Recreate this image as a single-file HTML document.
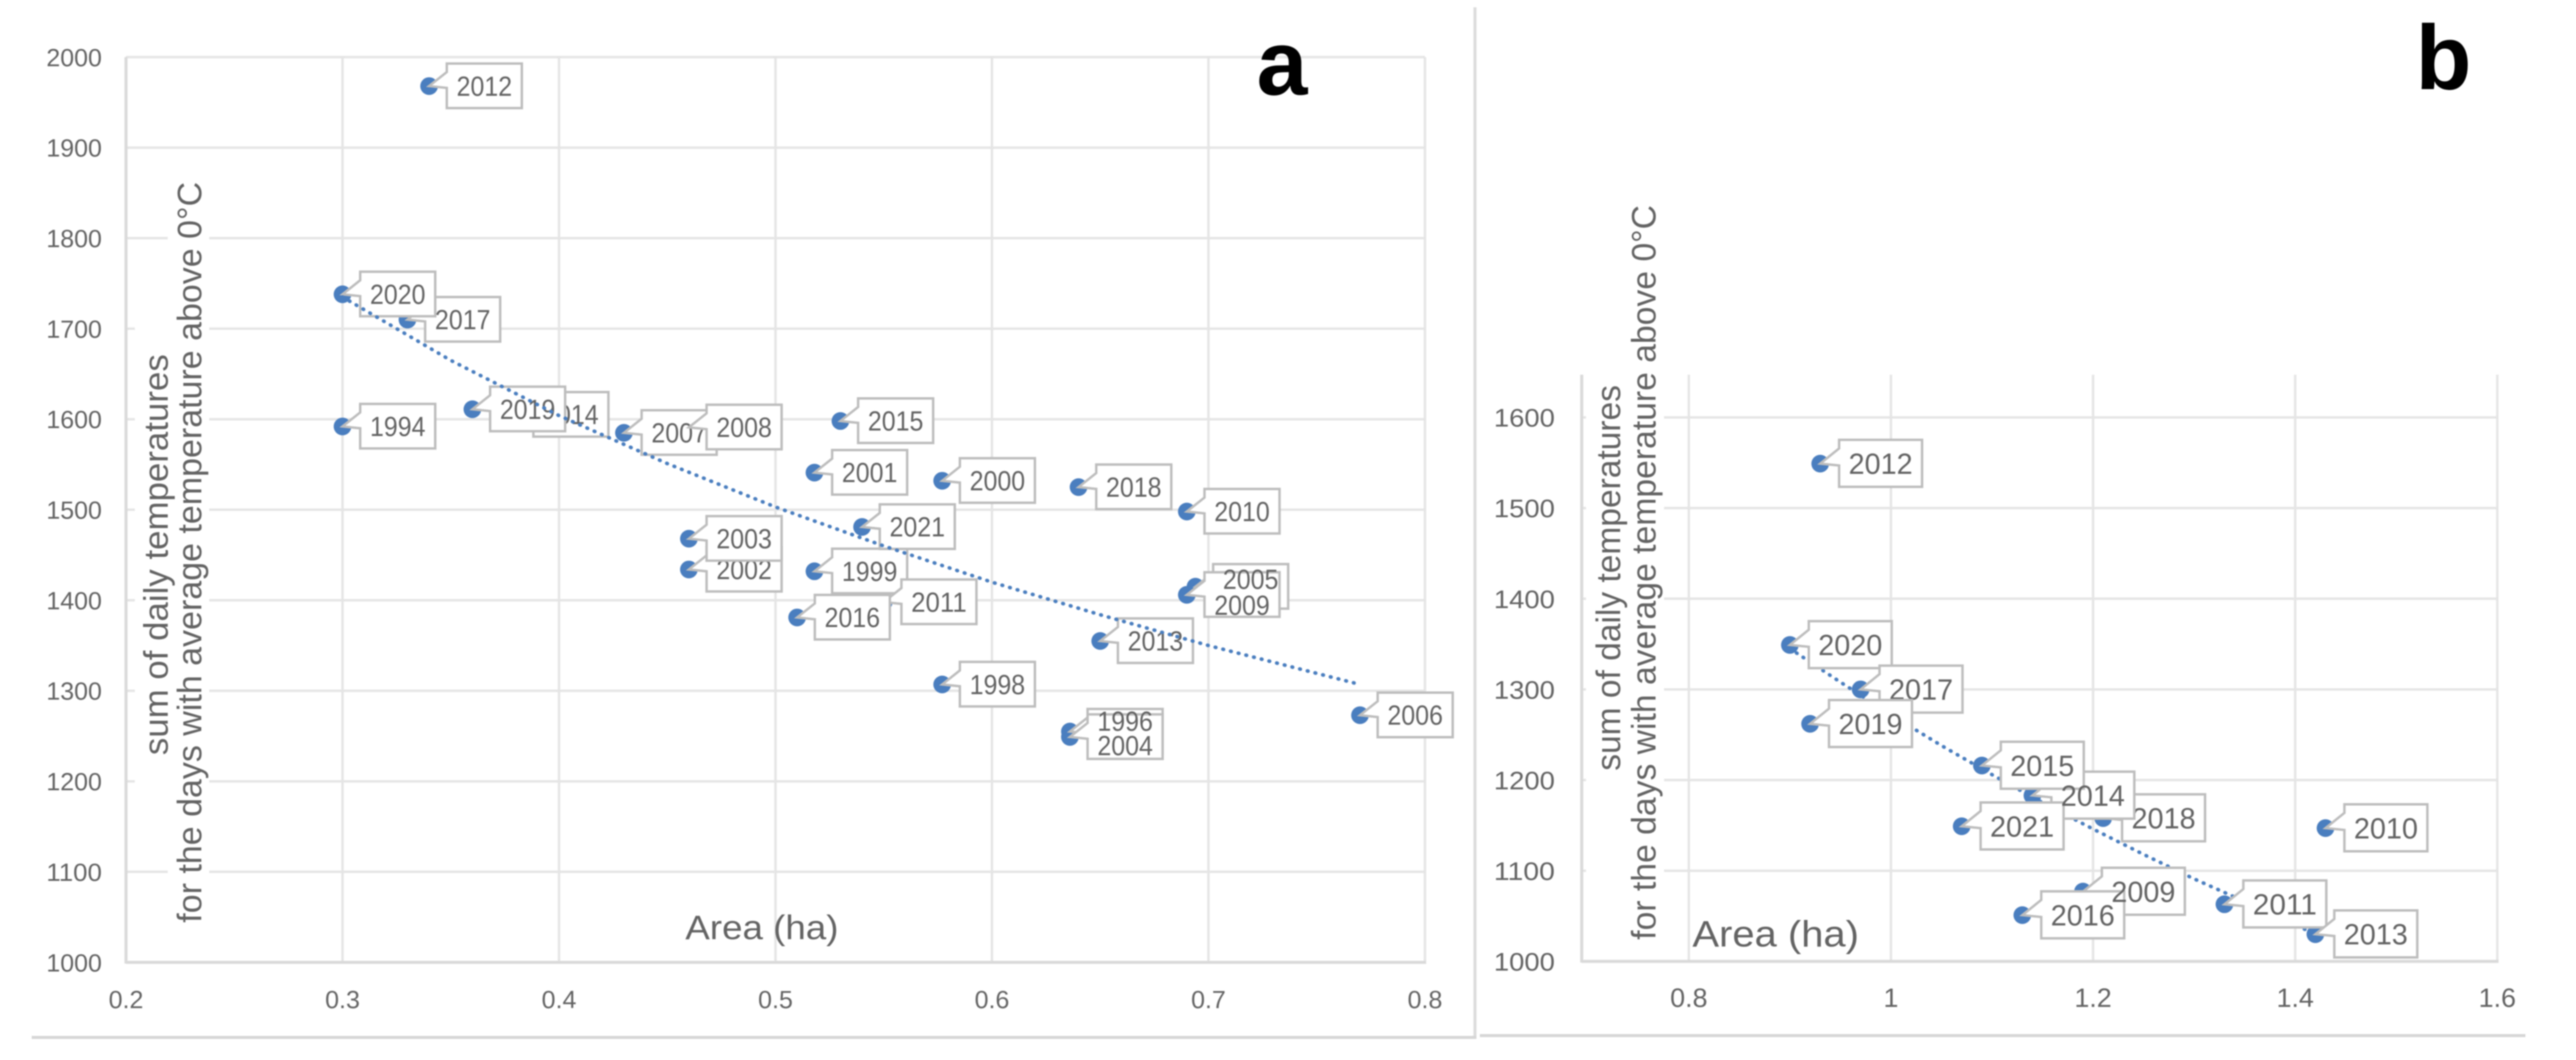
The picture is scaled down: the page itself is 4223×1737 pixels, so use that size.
<!DOCTYPE html>
<html lang="en">
<head>
<meta charset="utf-8">
<title>Area versus sum of daily temperatures</title>
<style>
html,body{margin:0;padding:0;background:#fff;}
svg{display:block;filter:blur(1px);}
text{font-family:"Liberation Sans",sans-serif;fill:#636363;}
.letter{font-weight:bold;fill:#000;}
</style>
</head>
<body>
<svg id="root" width="4223" height="1737" viewBox="0 0 4223 1737" xmlns="http://www.w3.org/2000/svg">
  <rect width="4223" height="1737" fill="#ffffff"/>
  <line x1="2418" y1="12" x2="2418" y2="1702" stroke="#dcdcdc" stroke-width="5"/>
  <line x1="52" y1="1700" x2="2420" y2="1700" stroke="#d6d6d6" stroke-width="5"/>
  <line x1="2426" y1="1697" x2="4140" y2="1697" stroke="#d6d6d6" stroke-width="5"/>

  <g id="a-grid"></g>
  <rect x="221" y="500" width="55" height="800" fill="#fff"/>
  <rect x="275" y="280" width="68" height="1250" fill="#fff"/>
  <text transform="translate(275,909) rotate(-90)" text-anchor="middle" font-size="56" textLength="657" lengthAdjust="spacingAndGlyphs">sum of daily temperatures</text>
  <text transform="translate(330,905) rotate(-90)" text-anchor="middle" font-size="56" textLength="1214" lengthAdjust="spacingAndGlyphs">for the days with average temperature above 0°C</text>
  <text x="1249" y="1539" text-anchor="middle" font-size="56" textLength="251" lengthAdjust="spacingAndGlyphs">Area (ha)</text>
  <g id="a-marks"></g>
  <text class="letter" x="2060" y="155" font-size="150">a</text>

  <g id="b-grid"></g>
  <rect x="2600" y="300" width="128" height="1245" fill="#fff"/>
  <text transform="translate(2656,947) rotate(-90)" text-anchor="middle" font-size="56" textLength="632" lengthAdjust="spacingAndGlyphs">sum of daily temperatures</text>
  <text transform="translate(2714,938) rotate(-90)" text-anchor="middle" font-size="56" textLength="1204" lengthAdjust="spacingAndGlyphs">for the days with average temperature above 0°C</text>
  <text x="2911" y="1551" text-anchor="middle" font-size="60" textLength="273" lengthAdjust="spacingAndGlyphs">Area (ha)</text>
  <g id="b-marks"></g>
  <text class="letter" x="3960" y="146" font-size="150">b</text>
</svg>

<script>
// Panel a data
const yearsA = [1994,1996,1998,1999,2000,2001,2002,2003,2004,2005,2006,2007,2008,2009,2010,2011,2012,2013,2014,2015,2016,2017,2018,2019,2020,2021];
const areaA  = [0.30,0.636,0.577,0.518,0.577,0.518,0.46,0.46,0.636,0.694,0.77,0.43,0.46,0.69,0.69,0.55,0.34,0.65,0.38,0.53,0.51,0.33,0.64,0.36,0.30,0.54];
const sumA   = [1592,1255,1307,1432,1532,1541,1434,1468,1249,1415,1273,1585,1591,1406,1498,1398,1968,1355,1605,1598,1381,1710,1525,1611,1738,1481];
const trendAreaA = [0.30,0.35,0.40,0.45,0.50,0.55,0.60,0.65,0.70,0.77];
const trendSumA  = [1735,1665,1604,1551,1503,1460,1420,1384,1350,1307];
const xTickLabelsA = ['0.2','0.3','0.4','0.5','0.6','0.7','0.8'];
const yTickLabelsA = ['1000','1100','1200','1300','1400','1500','1600','1700','1800','1900','2000'];

// Panel b data (listed in stacking order of the callouts)
const yearsB = [2010,2009,2016,2011,2012,2013,2018,2014,2015,2021,2020,2017,2019];
const areaB  = [1.43,1.19,1.13,1.33,0.93,1.42,1.21,1.14,1.09,1.07,0.90,0.97,0.92];
const sumB   = [1147,1077,1051,1063,1549,1030,1158,1183,1216,1149,1349,1300,1262];
const trendAreaB = [0.90,0.95,1.00,1.05,1.10,1.15,1.20,1.25,1.30,1.35,1.42];
const trendSumB  = [1345,1308,1272,1238,1206,1175,1146,1118,1091,1066,1030];
const xTickLabelsB = ['0.8','1','1.2','1.4','1.6'];
const yTickLabelsB = ['1000','1100','1200','1300','1400','1500','1600'];

// Text shift inside stacked callouts
const labelTextShiftA = {1996:-17,2004:14,2005:-12,2009:17};
const labelTextShiftB = {};
// Labels whose text stays readable over neighbouring callouts
const textOnTopA = [1996,2004,2005,2009];
const textOnTopB = [2009,2014];

const SVGNS = 'http://www.w3.org/2000/svg';
function make(tag, attrs, parent){
  const el = document.createElementNS(SVGNS, tag);
  for (const k in attrs) el.setAttribute(k, attrs[k]);
  parent.appendChild(el);
  return el;
}

function drawPanel(cfg){
  const sx = v => cfg.px0 + (v - cfg.xMin) * (cfg.px1 - cfg.px0) / (cfg.xMax - cfg.xMin);
  const sy = v => cfg.py0 + (v - cfg.yMin) * (cfg.py1 - cfg.py0) / (cfg.yMax - cfg.yMin);
  const grid = document.getElementById(cfg.id + '-grid');
  const marks = document.getElementById(cfg.id + '-marks');
  const gridColor = '#e5e5e5';

  cfg.yTicks.forEach(t => {
    const y = sy(+t);
    const g = make('line', {x1:cfg.frameLeft, x2:cfg.px1, y1:y, y2:y, stroke:gridColor, 'stroke-width':4}, grid);
    
    
    const lab = make('text', {x:cfg.yLabelRight, y:y + cfg.yFont * 0.36, 'text-anchor':'end', 'font-size':cfg.yFont, textLength:cfg.yLabelWidth, lengthAdjust:'spacingAndGlyphs'}, grid);
    lab.textContent = t;
    
    
  });
  cfg.xTicks.forEach(t => {
    const x = sx(+t);
    const g = make('line', {x1:x, x2:x, y1:cfg.frameTop, y2:cfg.py0, stroke:gridColor, 'stroke-width':4}, grid);
    
    
    const lab = make('text', {x:x, y:cfg.xLabelY + cfg.xFont * 0.36, 'text-anchor':'middle', 'font-size':cfg.xFont}, grid);
    lab.textContent = t;
    
    
  });
  const axisL = make('line', {x1:cfg.frameLeft, x2:cfg.frameLeft, y1:cfg.frameTop, y2:cfg.py0 + 2, stroke:'#dadada', 'stroke-width':5}, grid);
  
  
  const axisB = make('line', {x1:cfg.frameLeft, x2:cfg.px1 + 2, y1:cfg.py0, y2:cfg.py0, stroke:'#dadada', 'stroke-width':5}, grid);
  
  

  function drawTrend(){
    const pts = cfg.trendX.map((v, i) => sx(v).toFixed(1) + ',' + sy(cfg.trendY[i]).toFixed(1)).join(' ');
    const tl = make('polyline', {points:pts, fill:'none', stroke:'#4a7ebf', 'stroke-width':6, 'stroke-dasharray':'1 12', 'stroke-linecap':'round'}, marks);
    
    
  }

  cfg.years.forEach((yr, i) => {
    const c = make('circle', {cx:sx(cfg.xs[i]), cy:sy(cfg.ys[i]), r:14.5, fill:'#4a7ebf'}, marks);
    
    
  });
  if (!cfg.trendOnTop) drawTrend();

  function drawLabelText(yr, L, T, R, B){
    const shift = cfg.shift[yr] || 0;
    const tx = make('text', {x:(L + R) / 2, y:(T + B) / 2 + shift + cfg.labelFont * 0.36, 'text-anchor':'middle', 'font-size':cfg.labelFont, textLength:cfg.labelWidth, lengthAdjust:'spacingAndGlyphs'}, marks);
    tx.textContent = yr;
    
    
  }

  const deferred = [];
  cfg.years.forEach((yr, i) => {
    const px = sx(cfg.xs[i]), py = sy(cfg.ys[i]);
    const L = px + cfg.boxDx, T = py - cfg.boxUp, R = L + cfg.boxW, B = T + cfg.boxH;
    const d = 'M' + L + ' ' + T + 'H' + R + 'V' + B + 'H' + L + 'V' + (py + 3) +
              'L' + px + ' ' + py + 'L' + L + ' ' + (T + 14) + 'Z';
    const box = make('path', {d:d, fill:'#fff', stroke:'#bdbdbd', 'stroke-width':4}, marks);
    
    
    if (cfg.textOnTop.includes(yr)) deferred.push([yr, L, T, R, B]);
    else drawLabelText(yr, L, T, R, B);
  });
  deferred.forEach(a => drawLabelText(a[0], a[1], a[2], a[3], a[4]));
  if (cfg.trendOnTop) drawTrend();
}

drawPanel({
  id:'a', years:yearsA, xs:areaA, ys:sumA, trendX:trendAreaA, trendY:trendSumA, trendOnTop:true,
  xTicks:xTickLabelsA, yTicks:yTickLabelsA, shift:labelTextShiftA, textOnTop:textOnTopA,
  xMin:0.2, xMax:0.8, px0:206.6, px1:2336, yMin:1000, yMax:2000, py0:1577, py1:93.6,
  frameLeft:206.6, frameTop:93.6, yLabelRight:167, yLabelWidth:91, yFont:41, xLabelY:1637, xFont:41,
  boxDx:29, boxUp:37, boxW:123, boxH:73, labelFont:45, labelWidth:91
});
drawPanel({
  id:'b', years:yearsB, xs:areaB, ys:sumB, trendX:trendAreaB, trendY:trendSumB, trendOnTop:false,
  xTicks:xTickLabelsB, yTicks:yTickLabelsB, shift:labelTextShiftB, textOnTop:textOnTopB,
  xMin:0.8, xMax:1.6, px0:2768.6, px1:4094, yMin:1000, yMax:1600, py0:1575.4, py1:684,
  frameLeft:2593, frameTop:614, yLabelRight:2549, yLabelWidth:100, yFont:42, xLabelY:1634, xFont:44,
  boxDx:31, boxUp:39, boxW:136, boxH:77, labelFont:48, labelWidth:105
});
</script>
</body>
</html>
